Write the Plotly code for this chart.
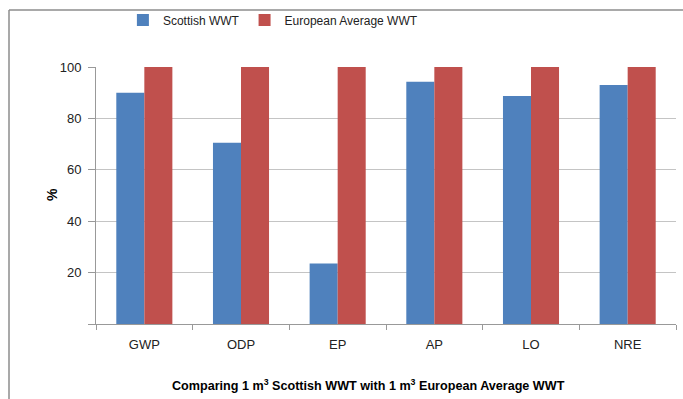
import plotly.graph_objects as go

categories = ["GWP", "ODP", "EP", "AP", "LO", "NRE"]
scottish = [90, 70.5, 23.5, 94.3, 88.7, 93]
european = [100, 100, 100, 100, 100, 100]
ytick_vals = [0, 20, 40, 60, 80, 100]
ytick_text = ["", "20", "40", "60", "80", "100"]

FONT = "Liberation Sans"
fig = go.Figure()
fig.add_trace(go.Bar(x=categories, y=scottish, name="Scottish WWT",
                     marker=dict(color="#4F81BD", line=dict(width=0))))
fig.add_trace(go.Bar(x=categories, y=european, name="European Average WWT",
                     marker=dict(color="#C0504D", line=dict(width=0))))

fig.update_layout(
    width=683, height=399,
    margin=dict(l=96, r=7, t=67, b=75, autoexpand=False),
    paper_bgcolor="white", plot_bgcolor="white",
    barmode="group", bargap=0.42, bargroupgap=0,
    font=dict(family=FONT, size=13, color="#222"),
    legend=dict(orientation="h", x=0.305, xanchor="center", y=(324 - 20) / 257, yanchor="middle",
                font=dict(size=12, color="#222"), itemwidth=30, traceorder="normal",
                bgcolor="rgba(0,0,0,0)"),
    showlegend=True,
)
fig.update_xaxes(type="category", showline=True, linecolor="#999", linewidth=1,
                 ticks="outside", tickson="boundaries", ticklen=5, tickcolor="#999",
                 showgrid=False, ticklabelstandoff=8,
                 tickfont=dict(family=FONT, size=13, color="#222"))
fig.update_yaxes(range=[0, 100], tickvals=ytick_vals, ticktext=ytick_text,
                 showline=True, linecolor="#999", linewidth=1,
                 ticks="outside", ticklen=7, tickcolor="#999",
                 showgrid=True, gridcolor="#c4c4c4", gridwidth=1, zeroline=False,
                 ticklabelstandoff=4,
                 tickfont=dict(family=FONT, size=13, color="#222"))

fig.add_annotation(text="<b>%</b>", xref="paper", yref="paper",
                   x=(42 - 96) / 580, y=(324 - 195) / 257, showarrow=False,
                   textangle=-90, font=dict(family=FONT, size=14, color="#000"))
fig.add_annotation(text="<b>Comparing 1 m<sup>3</sup> Scottish WWT with 1 m<sup>3</sup> European Average WWT</b>",
                   xref="paper", yref="paper", x=(368 - 96) / 580, y=(324 - 385) / 257,
                   showarrow=False, xanchor="center", yanchor="middle",
                   font=dict(family=FONT, size=12.6, color="#000"))

# outer chart frame (top and left edges visible)
fx0 = (9 - 96) / 580
fx1 = (683 - 96) / 580
fy_top = (324 - 10) / 257
fy_bot = (324 - 399) / 257
fig.add_shape(type="line", xref="paper", yref="paper", x0=fx0, x1=fx1, y0=fy_top, y1=fy_top,
              line=dict(color="#8c8c8c", width=1.5))
fig.add_shape(type="line", xref="paper", yref="paper", x0=fx0, x1=fx0, y0=fy_top, y1=fy_bot,
              line=dict(color="#8c8c8c", width=1.5))

fig.write_html("out.html")
